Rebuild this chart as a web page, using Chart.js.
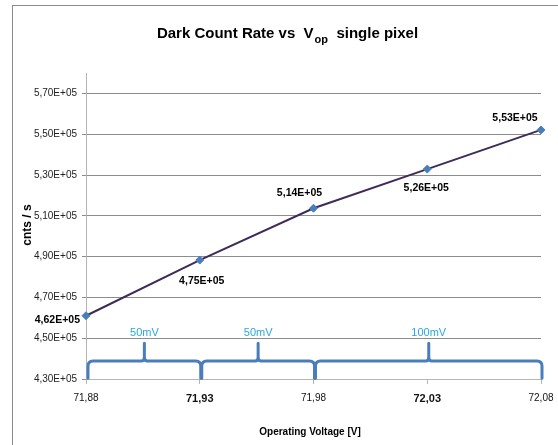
<!DOCTYPE html>
<html lang="en">
<head>
    <meta charset="UTF-8">
    <title>Dark Count Rate vs Vop</title>
    <script src="https://cdn.jsdelivr.net/npm/chart.js"></script>
    <style>
        html, body { margin: 0; padding: 0; background: #fff; }
        .chart-box { position: relative; width: 558px; height: 445px; }
    </style>
</head>
<body>

<div class="chart-box">
    <canvas id="dcrChart" width="558" height="445"></canvas>
</div>

<script>
    // data
    const voltages = [71.88, 71.93, 71.98, 72.03, 72.08];
    const countRates = [461000, 488300, 513700, 532900, 552100];
    const pointLabels = ['4,62E+05', '4,75E+05', '5,14E+05', '5,26E+05', '5,53E+05'];
    const xTicks = [71.88, 71.93, 71.98, 72.03, 72.08];
    const boldXTicks = [71.93, 72.03];
    const yTicks = [430000, 450000, 470000, 490000, 510000, 530000, 550000, 570000];
    const braceFrom = [71.88, 71.93, 71.98];
    const braceTo = [71.93, 71.98, 72.08];
    const braceLabels = ['50mV', '50mV', '100mV'];

    // label placement relative to each point (dx, dy, align)
    const labelPos = [
        [-6, 4, 'right'],
        [2, 21, 'center'],
        [-14, -15, 'center'],
        [-1, 19, 'center'],
        [-26, -12, 'center']
    ];

    const FONT = '"Liberation Sans", Arial, sans-serif';

    const extras = {
        id: 'extras',
        beforeDraw(chart) {
            const c = chart.ctx;
            c.save();
            c.fillStyle = '#fff';
            c.fillRect(0, 0, chart.width, chart.height);
            c.strokeStyle = '#8a8a8a';
            c.lineWidth = 1;
            c.strokeRect(12.5, 5.5, 560, 450);
            c.restore();
        },
        afterDraw(chart) {
            const c = chart.ctx;
            const xs = chart.scales.x, ys = chart.scales.y;
            c.save();

            // title with subscript
            const p1 = 'Dark Count Rate vs  V', sub = 'op', p2 = '  single pixel';
            c.fillStyle = '#000';
            c.textBaseline = 'alphabetic';
            c.font = 'bold 15px ' + FONT;
            const w1 = c.measureText(p1).width, w3 = c.measureText(p2).width;
            c.font = 'bold 11px ' + FONT;
            const w2 = c.measureText(sub).width;
            let tx = 287 - (w1 + w2 + w3) / 2;
            c.font = 'bold 15px ' + FONT;
            c.fillText(p1, tx, 38);
            c.font = 'bold 11px ' + FONT;
            c.fillText(sub, tx + w1 + 1, 43);
            c.font = 'bold 15px ' + FONT;
            c.fillText(p2, tx + w1 + w2 + 1, 38);

            // axis titles
            c.font = 'bold 10px ' + FONT;
            c.textAlign = 'center';
            c.textBaseline = 'middle';
            c.fillText('Operating Voltage [V]', 310, 432);
            c.save();
            c.translate(28, 225);
            c.rotate(-Math.PI / 2);
            c.font = 'bold 12px ' + FONT;
            c.fillText('cnts / s', 0, 0);
            c.restore();

            // point labels
            const meta = chart.getDatasetMeta(0);
            c.font = 'bold 10.5px ' + FONT;
            meta.data.forEach((pt, i) => {
                const [dx, dy, al] = labelPos[i];
                c.textAlign = al;
                c.fillText(pointLabels[i], pt.x + dx, pt.y + dy);
            });

            // braces
            const yb = ys.getPixelForValue(430400);
            const yh = ys.getPixelForValue(438800);
            const yp = ys.getPixelForValue(447500);
            const yl = ys.getPixelForValue(452500);
            const r = 5;
            c.strokeStyle = '#4a7ebb';
            c.lineWidth = 3;
            c.lineCap = 'round';
            c.lineJoin = 'round';
            braceFrom.forEach((v, i) => {
                const a = xs.getPixelForValue(v) + 2;
                const b = xs.getPixelForValue(braceTo[i]) + 1;
                const m = (a + b) / 2;
                c.beginPath();
                c.moveTo(a, yb);
                c.lineTo(a, yh + r);
                c.quadraticCurveTo(a, yh, a + r, yh);
                c.lineTo(m - 3, yh);
                c.quadraticCurveTo(m, yh, m, yh - 4);
                c.lineTo(m, yp);
                c.moveTo(m, yh - 4);
                c.quadraticCurveTo(m, yh, m + 3, yh);
                c.lineTo(b - r, yh);
                c.quadraticCurveTo(b, yh, b, yh + r);
                c.lineTo(b, yb);
                c.stroke();

                c.fillStyle = '#2aa8e0';
                c.font = '11px ' + FONT;
                c.textAlign = 'center';
                c.textBaseline = 'middle';
                c.fillText(braceLabels[i], m, yl);
            });
            c.restore();
        }
    };

    new Chart(document.getElementById('dcrChart'), {
        type: 'line',
        data: {
            datasets: [{
                data: voltages.map((v, i) => ({x: v, y: countRates[i]})),
                borderColor: '#3d2c58',
                borderWidth: 2,
                pointStyle: 'rectRot',
                pointRadius: 4,
                pointBackgroundColor: '#4a7ebb',
                pointBorderColor: '#4a7ebb',
                pointBorderWidth: 1,
                tension: 0,
                clip: false
            }]
        },
        options: {
            responsive: false,
            animation: false,
            layout: { padding: { left: 0, top: 73, right: 17, bottom: 0 } },
            plugins: {
                legend: { display: false },
                title: { display: false },
                tooltip: { enabled: false }
            },
            scales: {
                x: {
                    type: 'linear',
                    min: 71.88,
                    max: 72.08,
                    afterBuildTicks: s => { s.ticks = xTicks.map(v => ({value: v})); },
                    afterFit: s => { s.height = 66; s.paddingLeft = 0; s.paddingRight = 0; },
                    border: { color: '#b5b5b5' },
                    grid: { drawOnChartArea: false, drawTicks: true, tickLength: 5, color: '#b5b5b5' },
                    ticks: {
                        padding: 8,
                        maxRotation: 0,
                        color: '#111',
                        callback: v => v.toFixed(2).replace('.', ','),
                        font: ctx => boldXTicks.includes(ctx.tick && ctx.tick.value)
                            ? { family: FONT, size: 11, weight: 'bold' }
                            : { family: FONT, size: 10 }
                    }
                },
                y: {
                    min: 430000,
                    max: 580000,
                    afterBuildTicks: s => { s.ticks = yTicks.map(v => ({value: v})); },
                    afterFit: s => { s.width = 86; s.paddingTop = 0; s.paddingBottom = 0; },
                    border: { color: '#b5b5b5' },
                    grid: { color: '#8c8c8c', tickLength: 4 },
                    ticks: {
                        padding: 5,
                        color: '#222',
                        font: { family: FONT, size: 10 },
                        callback: v => (v / 100000).toFixed(2).replace('.', ',') + 'E+05'
                    }
                }
            }
        },
        plugins: [extras]
    });
</script>

</body>
</html>
